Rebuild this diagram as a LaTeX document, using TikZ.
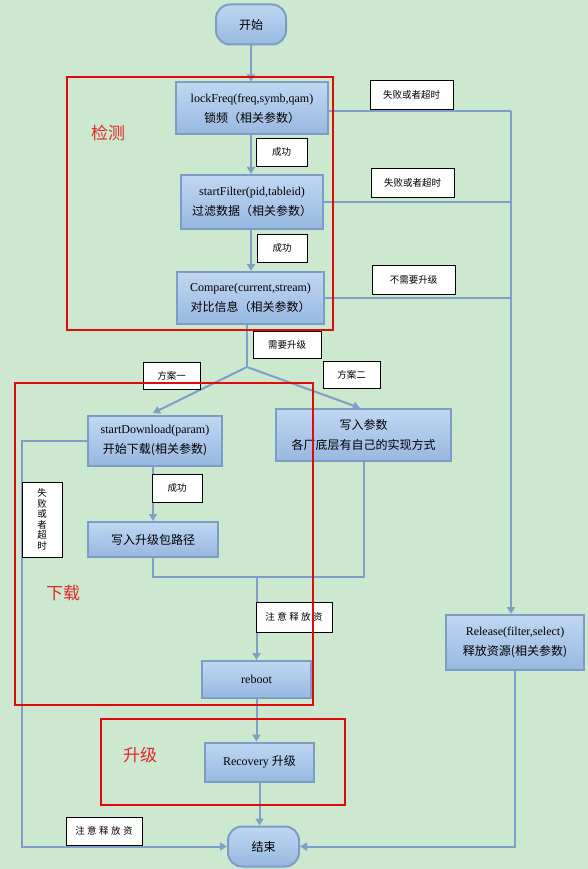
\documentclass[tikz,border=0pt]{standalone}
\usepackage{fontspec}
\setmainfont{Liberation Serif}
\newfontfamily\cjk{Noto Sans CJK SC}
\usetikzlibrary{arrows.meta}
\definecolor{bg}{RGB}{204,232,207}
\definecolor{boxtop}{RGB}{192,215,241}
\definecolor{boxbot}{RGB}{152,184,224}
\definecolor{boxedge}{RGB}{124,158,198}
\definecolor{conn}{RGB}{126,160,200}
\definecolor{redline}{RGB}{225,10,10}
\definecolor{redtext}{RGB}{228,40,40}
\begin{document}
\begin{tikzpicture}[x=1pt,y=-1pt,
  proc/.style={draw=boxedge, line width=2pt, top color=boxtop, bottom color=boxbot,
    inner sep=0pt, align=center, font=\fontsize{12}{20}\selectfont},
  term/.style={proc, rounded corners=14pt},
  lab/.style={draw=black, line width=0.8pt, fill=white, inner sep=0pt, align=center,
    font=\cjk\fontsize{9.5}{10.5}\selectfont},
  link/.style={draw=conn, line width=2pt},
  arr/.style={link, -{Triangle[length=7pt,width=8pt]}},
  zone/.style={draw=redline, line width=2pt},
  zonetext/.style={text=redtext, font=\cjk\fontsize{17}{20}\selectfont}
]
% background
\fill[bg] (0,0) rectangle (588,869);

% process nodes
\node[term, minimum width=70pt, minimum height=40pt] (start) at (251,24.5) {\cjk 开始};
\node[proc, minimum width=152pt, minimum height=52pt] (lock) at (252,108.5)
  {lockFreq(freq,symb,qam)\\{\cjk 锁频（相关参数）}};
\node[proc, minimum width=142pt, minimum height=54pt] (filter) at (252,202)
  {startFilter(pid,tableid)\\{\cjk 过滤数据（相关参数）}};
\node[proc, minimum width=147pt, minimum height=52pt] (cmp) at (250.5,298)
  {Compare(current,stream)\\{\cjk 对比信息（相关参数）}};
\node[proc, minimum width=134pt, minimum height=50pt] (dl) at (155,441)
  {startDownload(param)\\{\cjk 开始下载(相关参数)}};
\node[proc, minimum width=175pt, minimum height=52pt] (wp) at (363.5,435)
  {{\cjk 写入参数}\\{\cjk 各厂底层有自己的实现方式}};
\node[proc, minimum width=130pt, minimum height=35pt] (path) at (153,539.5)
  {\cjk 写入升级包路径};
\node[proc, minimum width=109pt, minimum height=37pt] (reboot) at (256.5,679.5) {reboot};
\node[proc, minimum width=109pt, minimum height=39pt] (rec) at (259.5,762)
  {Recovery {\cjk 升级}};
\node[term, minimum width=71pt, minimum height=40pt] (end) at (263.5,846.5) {\cjk 结束};
\node[proc, minimum width=138pt, minimum height=55pt] (rel) at (515,642.5)
  {Release(filter,select)\\{\cjk 释放资源(相关参数)}};

% helper coordinates
\coordinate (vtop) at (511,111);
\coordinate (split) at (247,367);
\coordinate (lx) at (22,0);
\coordinate (mj) at (256.5,577);

% connectors
\draw[arr] (start.south) -- (start.south |- lock.north);
\draw[arr] (lock.south -| 251,0) -- (filter.north -| 251,0);
\draw[arr] (filter.south -| 251,0) -- (cmp.north -| 251,0);
\draw[link] (lock.east |- vtop) -- (vtop);
\draw[link] (filter.east) -- (filter.east -| vtop);
\draw[link] (cmp.east) -- (cmp.east -| vtop);
\draw[arr] (vtop) -- (vtop |- rel.north);
\draw[arr] (rel.south) |- (end.east);
\draw[link] (split |- cmp.south) -- (split);
\draw[arr] (split) -- (153,413);
\draw[arr] (split) -- (360,408);
\draw[arr] (dl.west) -- (dl.west -| lx) |- (end.west);
\draw[arr] (path.north |- dl.south) -- (path.north);
\draw[link] (path.south) |- (wp.south |- mj) -- (wp.south);
\draw[arr] (mj) -- (reboot.north);
\draw[arr] (reboot.south) -- (reboot.south |- rec.north);
\draw[arr] (rec.south) -- (rec.south |- end.north);

% labels
\node[lab, minimum width=51pt, minimum height=28pt] (l1) at (281.5,152) {成功};
\node[lab, minimum width=50pt, minimum height=28pt] (l2) at (282,248) {成功};
\node[lab, minimum width=83pt, minimum height=29pt] (l3) at (411.5,94.5) {失败或者超时};
\node[lab, minimum width=83pt, minimum height=29pt] (l4) at (412.5,182.5) {失败或者超时};
\node[lab, minimum width=83pt, minimum height=29pt] (l5) at (413.5,279.5) {不需要升级};
\node[lab, minimum width=68pt, minimum height=27pt] (l6) at (287,344.5) {需要升级};
\node[lab, minimum width=57pt, minimum height=27pt] (l7) at (171.5,375.5) {方案一};
\node[lab, minimum width=57pt, minimum height=27pt] (l8) at (351.5,374.5) {方案二};
\node[lab, minimum width=50pt, minimum height=28pt] (l9) at (177,488) {成功};
\node[lab, minimum width=76pt, minimum height=30pt] (l10) at (294,617)
  {注\hspace{2.5pt}意\hspace{2.5pt}释\hspace{2.5pt}放\hspace{2.5pt}资};
\node[lab, minimum width=40pt, minimum height=75pt] (l11) at (42,519.5)
  {失\\败\\或\\者\\超\\时};
\node[lab, minimum width=76pt, minimum height=28pt] (l12) at (104,831)
  {注\hspace{2.5pt}意\hspace{2.5pt}释\hspace{2.5pt}放\hspace{2.5pt}资};

% red zones
\draw[zone] (67,77) rectangle (333,330);
\draw[zone] (15,383) rectangle (313,705);
\draw[zone] (101,719) rectangle (345,805);
\node[zonetext] (t1) at (108,133) {检测};
\node[zonetext] (t2) at (63,593) {下载};
\node[zonetext] (t3) at (140,755) {升级};
\end{tikzpicture}
\end{document}
